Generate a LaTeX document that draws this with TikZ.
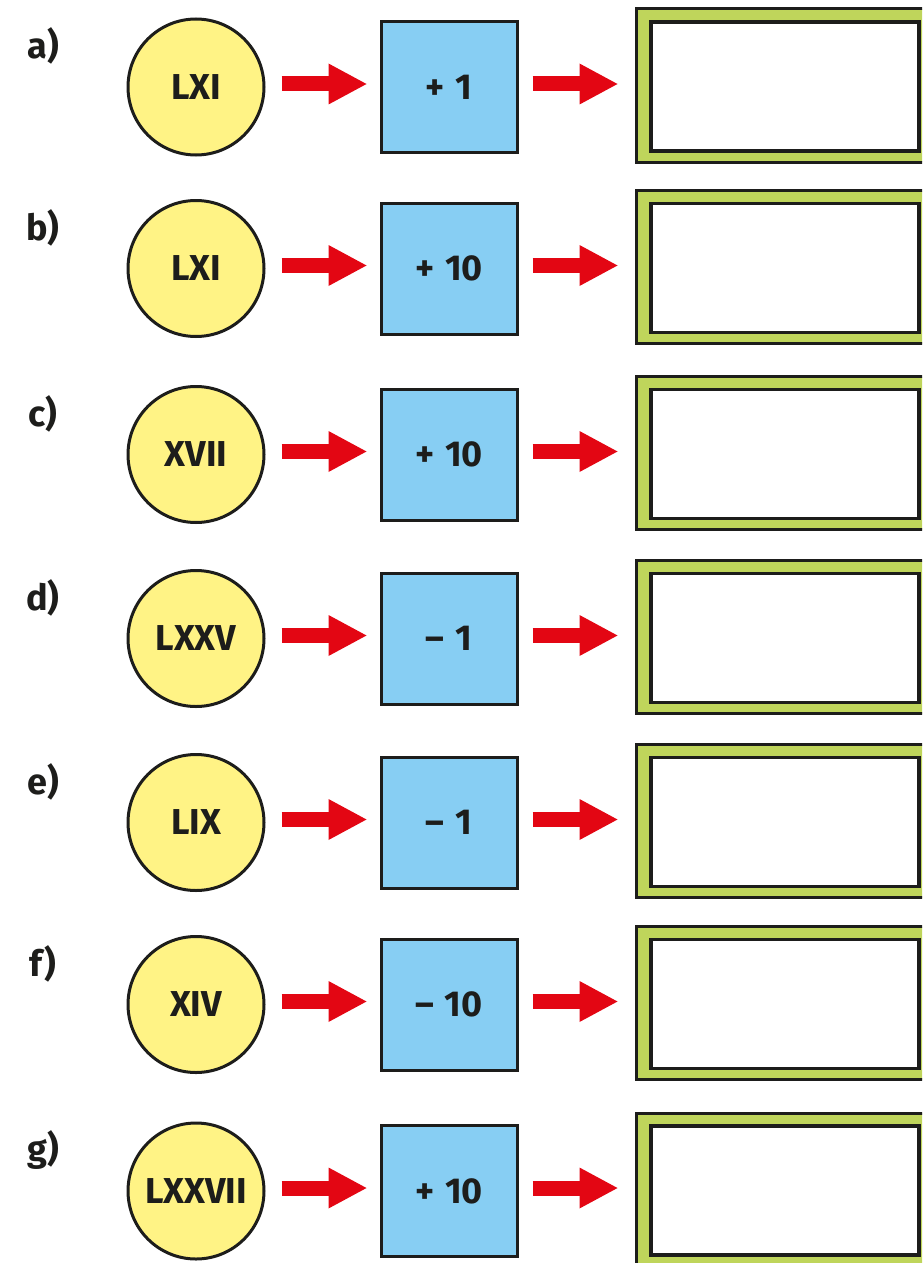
\documentclass[tikz,border=0pt]{standalone}
\usepackage{fontspec}
\setmainfont{Fira Sans}
\usetikzlibrary{arrows.meta,calc}
\definecolor{cyel}{HTML}{FFF385}
\definecolor{cblue}{HTML}{87CEF3}
\definecolor{cgreen}{HTML}{BFD55B}
\definecolor{cred}{HTML}{E30613}
\definecolor{cblk}{HTML}{1D1D1B}
\newcommand{\opsp}{\hspace{0.3em}}
\tikzset{
  rowlabel/.style={font=\fontsize{18}{21}\selectfont\bfseries, text=cblk},
  numcircle/.style={circle, draw=cblk, fill=cyel, line width=1.5pt, minimum size=68pt, inner sep=0pt, font=\fontsize{18}{21}\selectfont\bfseries, text=cblk},
  opbox/.style={rectangle, draw=cblk, fill=cblue, line width=1.5pt, minimum width=68pt, minimum height=65.5pt, inner sep=0pt, font=\fontsize{18}{21}\selectfont\bfseries, text=cblk},
  outerbox/.style={rectangle, draw=cblk, fill=cgreen, line width=1.5pt, minimum width=149.5pt, minimum height=76.5pt, inner sep=0pt},
  innerbox/.style={rectangle, draw=cblk, fill=white, line width=1.8pt, minimum width=134pt, minimum height=64.5pt, inner sep=0pt},
  redarrow/.style={draw=cred, line width=7.5pt, -{Triangle[length=19pt,width=20.5pt,line width=0pt]}}
}
\begin{document}
\begin{tikzpicture}[x=0.5pt,y=-0.5pt]
\useasboundingbox (0,0) rectangle (922,1263);
\clip (0,0) rectangle (922,1263);
\foreach \cy/\lab/\num/\op [count=\i] in {
  87/a)/LXI/+\opsp 1,
  268.5/b)/LXI/+\opsp 10,
  454.5/c)/XVII/+\opsp 10,
  638.5/d)/LXXV/–\opsp 1,
  822.5/e)/LIX/–\opsp 1,
  1004.5/f)/XIV/–\opsp 10,
  1191/g)/LXXVII/+\opsp 10}{
  \node[rowlabel] (lab\i) at (43,\cy-41) {\lab};
  \node[numcircle] (c\i) at (196,\cy) {\num};
  \node[opbox] (b\i) at (449,\cy) {\op};
  \node[outerbox] (o\i) at (785.5,\cy-1.5) {};
  \node[innerbox] (r\i) at (785,\cy-0.5) {};
  \draw[redarrow] ($(c\i.east)+(16,-3)$) -- ($(b\i.west)+(-13,-3)$);
  \draw[redarrow] ($(b\i.east)+(14,-3)$) -- ($(o\i.west |- b\i.east)+(-17,-3)$);
}
\end{tikzpicture}
\end{document}
